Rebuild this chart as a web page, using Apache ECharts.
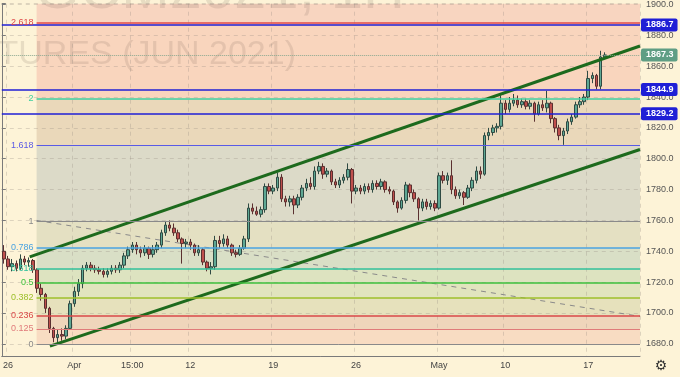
<!DOCTYPE html>
<html>
<head>
<meta charset="utf-8">
<script src="https://cdn.jsdelivr.net/npm/echarts@6/dist/echarts.min.js"></script>
<style>
    html, body { margin: 0; padding: 0; background: #fdf3d7; }
    #chart { width: 680px; height: 377px; }
</style>
</head>
<body>
<div id="chart"></div>
<script>
    // x axis: 6h slots, 4 per trading day
    const slotCount = 154;
    const tickSlots = [1, 17, 31, 45, 65, 85, 105, 121, 141];
    const tickLabels = ['26', 'Apr', '15:00', '12', '19', '26', 'May', '10', '17'];

    // candles: [open, close, low, high]
    const candles = [
        [1740, 1735, 1732, 1744], [1735, 1730, 1728, 1737], [1730, 1732, 1727, 1735], [1732, 1729, 1727, 1734],
        [1729, 1735, 1728, 1738], [1735, 1733, 1731, 1737], [1733, 1734, 1730, 1736], [1734, 1728, 1726, 1735],
        [1728, 1716, 1713, 1729], [1716, 1712, 1708, 1719], [1712, 1703, 1700, 1713], [1703, 1690, 1687, 1704],
        [1690, 1684, 1681, 1691], [1684, 1686, 1680, 1689], [1686, 1685, 1682, 1690], [1685, 1690, 1683, 1692],
        [1690, 1706, 1689, 1708], [1706, 1714, 1704, 1717], [1714, 1719, 1711, 1722], [1719, 1729, 1716, 1731],
        [1729, 1731, 1727, 1733], [1731, 1729, 1727, 1733], [1729, 1728, 1726, 1731], [1728, 1727, 1725, 1730],
        [1727, 1725, 1723, 1729], [1725, 1727, 1723, 1729], [1727, 1729, 1725, 1731], [1729, 1728, 1726, 1731],
        [1728, 1731, 1726, 1733], [1731, 1737, 1729, 1739], [1737, 1741, 1735, 1743], [1741, 1744, 1739, 1746],
        [1744, 1741, 1738, 1746], [1741, 1739, 1736, 1743], [1739, 1742, 1737, 1744], [1742, 1738, 1735, 1743],
        [1738, 1741, 1736, 1744], [1741, 1744, 1739, 1746], [1744, 1752, 1742, 1754], [1752, 1757, 1750, 1759],
        [1757, 1755, 1753, 1760], [1755, 1752, 1750, 1758], [1752, 1748, 1746, 1754], [1748, 1745, 1732, 1749],
        [1745, 1746, 1742, 1748], [1746, 1744, 1741, 1748], [1744, 1739, 1737, 1745], [1739, 1741, 1737, 1744],
        [1741, 1733, 1731, 1742], [1733, 1729, 1727, 1734], [1729, 1730, 1725, 1733], [1730, 1747, 1728, 1750],
        [1747, 1745, 1742, 1750], [1745, 1748, 1743, 1751], [1748, 1744, 1742, 1750], [1744, 1739, 1737, 1745],
        [1739, 1738, 1736, 1741], [1738, 1742, 1737, 1744], [1742, 1748, 1741, 1750], [1748, 1768, 1746, 1771],
        [1768, 1766, 1764, 1771], [1766, 1764, 1763, 1769], [1764, 1767, 1762, 1769], [1767, 1782, 1765, 1784],
        [1782, 1779, 1777, 1784], [1779, 1781, 1777, 1783], [1781, 1788, 1779, 1791], [1788, 1774, 1772, 1790],
        [1774, 1772, 1769, 1776], [1772, 1774, 1769, 1776], [1774, 1770, 1764, 1776], [1770, 1775, 1768, 1777],
        [1775, 1781, 1773, 1783], [1781, 1784, 1779, 1787], [1784, 1782, 1780, 1788], [1782, 1792, 1780, 1795],
        [1792, 1795, 1790, 1798], [1795, 1790, 1787, 1797], [1790, 1792, 1788, 1794], [1792, 1785, 1783, 1793],
        [1785, 1783, 1781, 1787], [1783, 1786, 1781, 1788], [1786, 1788, 1784, 1790], [1788, 1793, 1786, 1797],
        [1793, 1779, 1771, 1794], [1779, 1781, 1777, 1783], [1781, 1779, 1777, 1783], [1779, 1782, 1777, 1784],
        [1782, 1780, 1778, 1784], [1780, 1784, 1778, 1786], [1784, 1782, 1780, 1786], [1782, 1785, 1780, 1787],
        [1785, 1780, 1778, 1786], [1780, 1779, 1777, 1782], [1779, 1772, 1770, 1780], [1772, 1768, 1765, 1773],
        [1768, 1773, 1767, 1775], [1773, 1783, 1771, 1785], [1783, 1778, 1775, 1784], [1778, 1774, 1772, 1780],
        [1774, 1768, 1760, 1775], [1768, 1772, 1766, 1774], [1772, 1769, 1767, 1774], [1769, 1771, 1767, 1773],
        [1771, 1768, 1766, 1773], [1768, 1789, 1767, 1791], [1789, 1786, 1784, 1792], [1786, 1789, 1783, 1791],
        [1789, 1780, 1777, 1799], [1780, 1776, 1774, 1782], [1776, 1778, 1774, 1780], [1778, 1775, 1770, 1779],
        [1775, 1781, 1774, 1783], [1781, 1786, 1779, 1788], [1786, 1792, 1784, 1795], [1792, 1790, 1787, 1795],
        [1790, 1815, 1789, 1817], [1815, 1817, 1812, 1820], [1817, 1820, 1815, 1822], [1820, 1821, 1817, 1823],
        [1821, 1836, 1819, 1841], [1836, 1832, 1829, 1838], [1832, 1836, 1830, 1840], [1836, 1838, 1834, 1842],
        [1838, 1835, 1833, 1841], [1835, 1837, 1833, 1839], [1837, 1834, 1832, 1839], [1834, 1836, 1832, 1838],
        [1836, 1829, 1824, 1837], [1829, 1835, 1828, 1837], [1835, 1833, 1831, 1838], [1833, 1836, 1830, 1844],
        [1836, 1826, 1823, 1837], [1826, 1820, 1817, 1827], [1820, 1815, 1812, 1822], [1815, 1818, 1809, 1820],
        [1818, 1824, 1816, 1826], [1824, 1827, 1822, 1829], [1827, 1835, 1826, 1837], [1835, 1837, 1833, 1840],
        [1837, 1840, 1835, 1842], [1840, 1852, 1838, 1857], [1852, 1854, 1849, 1856], [1854, 1847, 1845, 1855],
        [1847, 1866, 1845, 1870], [1866, 1867.3, 1865, 1869]
    ];

    // fibonacci retracement / extension
    const fibLow = 1679.7;
    const fibHigh = 1759.3;
    const fibRatios = [0, 0.125, 0.236, 0.382, 0.5, 0.618, 0.786, 1, 1.618, 2, 2.618];
    const fibColors = ['#8a8a8a', '#e07a7a', '#d94848', '#9cbf2a', '#3cc03c', '#2fbf9b', '#4aa3e0', '#8a8a8a', '#5a5ae6', '#3fd0a0', '#e04848'];
    const fibFills = ['#f8dcc2', '#efd5bb', '#e6e1bc', '#e1e4be', '#dde3c0', '#d9dfc6', '#e4e0c2', '#dcdac8', '#ead8ba', '#f9d5bd', '#f8d5c0'];
    const fibStartSlot = 8.4;

    // drawn lines, [slot, price]
    const channelUpper = [[6.74, 1736.4], [154, 1873.1]];
    const channelLower = [[11.62, 1678.5], [154, 1806.0]];
    const fibDiagonal = [[8.4, 1760], [154, 1697.8]];
    const levelPrices = [1886.7, 1844.9, 1829.2];
    const lastPrice = 1867.3;

    const slots = [];
    for (let i = 0; i < slotCount; i++) slots.push(String(i));

    let myChart = echarts.init(document.getElementById('chart'));

    let fibValue = (r) => fibLow + (fibHigh - fibLow) * r;

    let fibLines = fibRatios.map((r, i) => [
        {
            coord: [fibStartSlot, fibValue(r)],
            name: String(r),
            lineStyle: {color: fibColors[i], width: (r === 1 || r === 0 || r === 1.618 || r === 0.125) ? 1 : 1.6, type: 'solid'},
            label: {color: fibColors[i]}
        },
        {coord: [slotCount, fibValue(r)]}
    ]);

    let fibAreas = fibRatios.map((r, i) => {
        let top = i < fibRatios.length - 1 ? fibValue(fibRatios[i + 1]) : 1910;
        return [
            {coord: [fibStartSlot, fibValue(r)], itemStyle: {color: fibFills[i]}},
            {coord: [slotCount, top]}
        ];
    });

    let levelLines = levelPrices.map((p) => [
        {coord: [0, p], name: p.toFixed(1)},
        {coord: [slotCount, p]}
    ]);
    levelLines.push([
        {
            coord: [0, lastPrice], name: lastPrice.toFixed(1),
            lineStyle: {color: '#8aa890', type: 'dotted', width: 1},
            label: {backgroundColor: '#5f9e84'}
        },
        {coord: [slotCount, lastPrice]}
    ]);

    let option = {
        backgroundColor: '#fdf3d7',
        animation: false,
        textStyle: {fontFamily: 'Liberation Sans'},
        grid: {left: 0, right: 40, top: 0, bottom: 21},
        graphic: [
            {
                type: 'text', x: 405, y: -8, z: 2, silent: true,
                style: {text: 'GCM2021, 1H', font: '58px "Liberation Sans"', fill: 'rgba(120,100,90,0.16)', align: 'right', verticalAlign: 'middle'}
            },
            {
                type: 'text', x: 296, y: 55, z: 2, silent: true,
                style: {text: 'GOLD FUTURES (JUN 2021)', font: '34px "Liberation Sans"', fill: 'rgba(120,100,90,0.16)', align: 'right', verticalAlign: 'middle'}
            },
            {
                type: 'text', x: 661, y: 366, z: 10,
                style: {text: '\u2699', font: '14px "DejaVu Sans"', fill: '#333', align: 'center', verticalAlign: 'middle'}
            }
        ],
        xAxis: [
            {
                type: 'category',
                data: slots,
                boundaryGap: true,
                z: 2,
                axisLine: {lineStyle: {color: '#7a7a7a'}},
                axisTick: {show: false},
                axisLabel: {
                    interval: (index) => tickSlots.indexOf(index) >= 0,
                    formatter: (value, index) => {
                        let k = tickSlots.indexOf(Number(value));
                        return k >= 0 ? tickLabels[k] : '';
                    },
                    color: '#444', fontSize: 9, margin: 5
                },
                splitLine: {
                    show: true,
                    interval: (index) => tickSlots.indexOf(index) >= 0,
                    lineStyle: {color: 'rgba(150,140,130,0.3)', type: [4, 4]}
                }
            },
            {
                type: 'value', min: 0, max: slotCount, show: false
            }
        ],
        yAxis: {
            type: 'value',
            position: 'right',
            min: 1672.1,
            max: 1900.5,
            splitNumber: 11,
            z: 2,
            axisLine: {show: true, lineStyle: {color: '#7a7a7a'}},
            axisTick: {show: true, length: 4, lineStyle: {color: '#7a7a7a'}},
            axisLabel: {
                formatter: (v) => (Math.abs(v - Math.round(v / 20) * 20) < 0.01 ? v.toFixed(1) : ''),
                color: '#555', fontSize: 9, margin: 6, showMinLabel: false, showMaxLabel: true
            },
            splitLine: {show: true, lineStyle: {color: 'rgba(150,140,130,0.3)', type: [4, 4]}}
        },
        series: [
            {
                name: 'fib',
                type: 'line',
                xAxisIndex: 1,
                data: fibDiagonal,
                symbol: 'none',
                z: 2,
                lineStyle: {color: '#8a8a8a', width: 1, type: [5, 5]},
                markArea: {silent: true, data: fibAreas},
                markLine: {
                    silent: true,
                    symbol: 'none',
                    label: {position: 'start', formatter: '{b}', fontSize: 9, distance: 3},
                    data: fibLines
                }
            },
            {
                name: 'GC',
                type: 'candlestick',
                data: candles,
                z: 3,
                barWidth: 3,
                itemStyle: {
                    color: '#5fa894',
                    color0: '#c0504d',
                    borderColor: '#2f4a43',
                    borderColor0: '#5a3030',
                    borderWidth: 1
                }
            },
            {
                name: 'upper',
                type: 'line',
                xAxisIndex: 1,
                data: channelUpper,
                symbol: 'none',
                z: 4,
                lineStyle: {color: '#1d6a1d', width: 3}
            },
            {
                name: 'lower',
                type: 'line',
                xAxisIndex: 1,
                data: channelLower,
                symbol: 'none',
                z: 4,
                lineStyle: {color: '#1d6a1d', width: 3},
                markLine: {
                    silent: true,
                    symbol: 'none',
                    lineStyle: {color: '#1f1fd6', width: 1.5, type: 'solid'},
                    label: {
                        position: 'end', formatter: '{b}', distance: 1,
                        backgroundColor: '#1f1fd6', color: '#fff', fontSize: 9, fontWeight: 'bold',
                        padding: [2, 4, 2, 5], borderRadius: 2
                    },
                    data: levelLines
                }
            }
        ]
    };
    myChart.setOption(option);
</script>
</body>
</html>
